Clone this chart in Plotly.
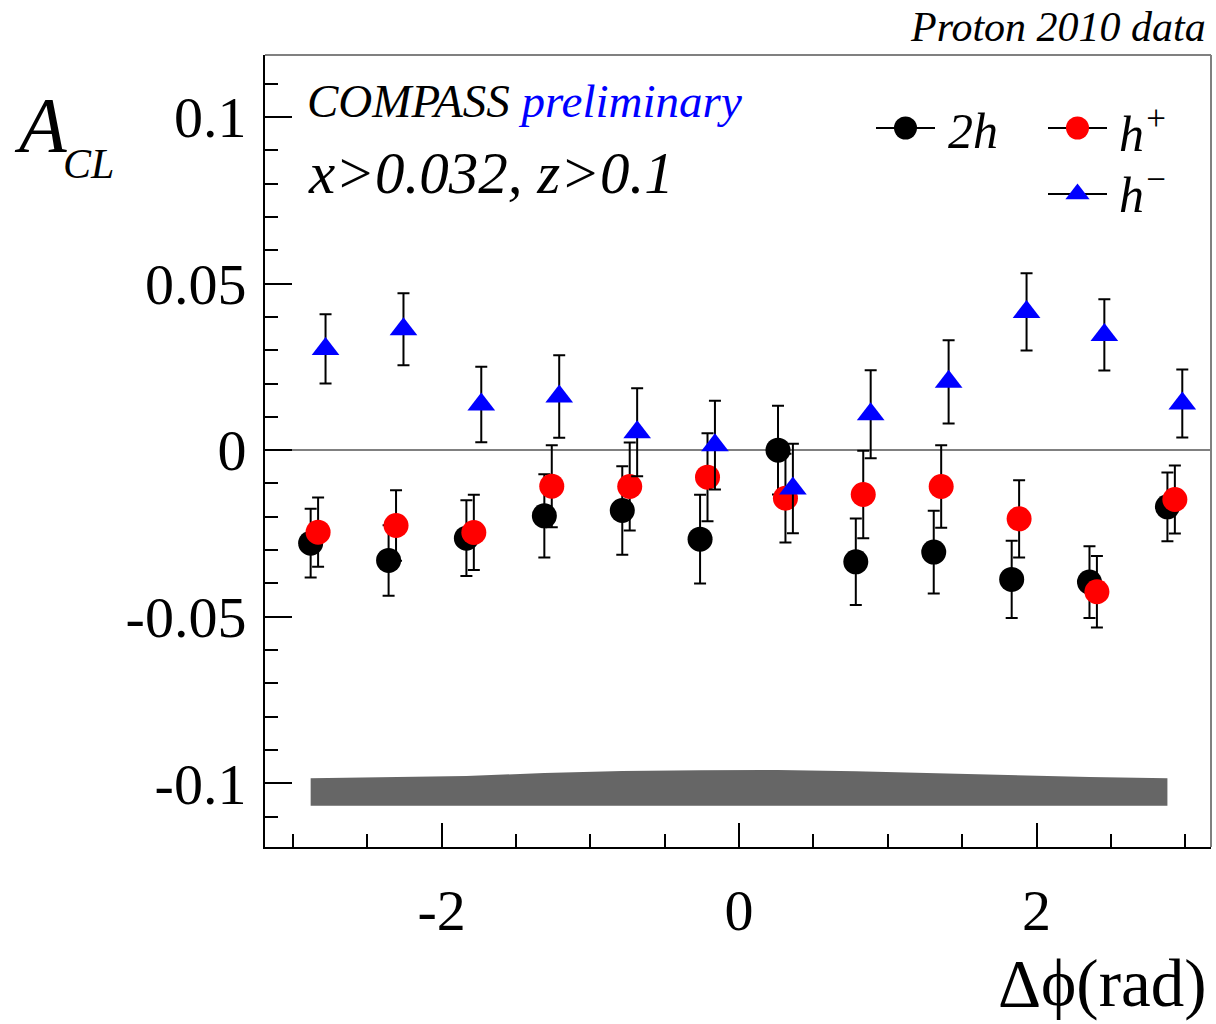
import plotly.graph_objects as go

# ---------------- data ----------------
PHI = [-2.880, -2.356, -1.833, -1.309, -0.785, -0.262, 0.262, 0.785, 1.309, 1.833, 2.356, 2.880]

A_2H = [-0.0279, -0.0331, -0.0264, -0.0197, -0.0181, -0.0267, 0.0000, -0.0335, -0.0306, -0.0388, -0.0396, -0.0170]
E_2H = [0.0103, 0.0106, 0.0114, 0.0125, 0.0133, 0.0133, 0.0133, 0.0130, 0.0124, 0.0116, 0.0108, 0.0103]

A_HP = [-0.0246, -0.0226, -0.0247, -0.0108, -0.0109, -0.0081, -0.0144, -0.0133, -0.0109, -0.0206, -0.0425, -0.0148]
E_HP = [0.0104, 0.0106, 0.0113, 0.0123, 0.0132, 0.0132, 0.0133, 0.0131, 0.0124, 0.0116, 0.0107, 0.0102]

A_HM = [0.0304, 0.0363, 0.0137, 0.0161, 0.0054, 0.0015, -0.0115, 0.0108, 0.0205, 0.0415, 0.0346, 0.0140]
E_HM = [0.0104, 0.0108, 0.0113, 0.0124, 0.0132, 0.0133, 0.0134, 0.0132, 0.0125, 0.0116, 0.0107, 0.0102]

SYST = [0.0082, 0.0085, 0.0089, 0.0098, 0.0104, 0.0106, 0.0107, 0.0103, 0.0097, 0.0092, 0.0086, 0.0082]
BAND_BASE = -0.1067

X_TICKS = [-2, 0, 2]
X_TICK_LABELS = ["-2", "0", "2"]
Y_TICKS = [-0.1, -0.05, 0, 0.05, 0.1]
Y_TICK_LABELS = ["-0.1", "-0.05", "0", "0.05", "0.1"]

# ---------------- style / layout ----------------
W, H = 1216, 1024
L, R, T, B = 265, 1211, 55, 847
SERIF = "Liberation Serif"
OFF_HP, OFF_HM = 0.05, 0.10


def px(x):
    return (x - L) / (R - L)


def py(y):
    return (B - y) / (B - T)


fig = go.Figure()

# systematic band
fig.add_trace(go.Scatter(x=PHI, y=[BAND_BASE] * len(PHI), mode="lines",
                         line=dict(width=0, color="#666666"), showlegend=False, hoverinfo="skip"))
fig.add_trace(go.Scatter(x=PHI, y=[BAND_BASE + s for s in SYST], mode="lines",
                         line=dict(width=0, color="#666666"), fill="tonexty",
                         fillcolor="#666666", showlegend=False, hoverinfo="skip"))

err_style = dict(type="data", color="black", thickness=2, width=6)

fig.add_trace(go.Scatter(x=PHI, y=A_2H, mode="markers",
                         marker=dict(symbol="circle", size=25, color="black", line=dict(width=0)),
                         error_y=dict(array=E_2H, **err_style), showlegend=False))
fig.add_trace(go.Scatter(x=[p + OFF_HP for p in PHI], y=A_HP, mode="markers",
                         marker=dict(symbol="circle", size=25, color="#ff0000", line=dict(width=0)),
                         error_y=dict(array=E_HP, **err_style), showlegend=False))
fig.add_trace(go.Scatter(x=[p + OFF_HM for p in PHI], y=A_HM, mode="markers",
                         marker=dict(symbol="triangle-up", size=24, color="#0000ff", line=dict(width=0)),
                         error_y=dict(array=E_HM, **err_style), showlegend=False))

# manual legend samples on a pixel-coordinate overlay axis
LEG = [  # (x0, x1, y, symbol, color, size)
    (876, 935, 128, "circle", "black", 23),
    (1048, 1107, 128, "circle", "#ff0000", 23),
    (1048, 1107, 194, "triangle-up", "#0000ff", 21),
]
for x0, x1, yy, sym, col, sz in LEG:
    fig.add_trace(go.Scatter(x=[x0, x1], y=[yy, yy], mode="lines", line=dict(color="black", width=2),
                             xaxis="x2", yaxis="y2", showlegend=False, hoverinfo="skip"))
    fig.add_trace(go.Scatter(x=[(x0 + x1) / 2], y=[yy], mode="markers",
                             marker=dict(symbol=sym, size=sz, color=col, line=dict(width=0)),
                             xaxis="x2", yaxis="y2", showlegend=False, hoverinfo="skip"))

tickfont = dict(family=SERIF, size=58, color="black")

fig.update_layout(
    width=W, height=H,
    margin=dict(l=L, r=W - R, t=T, b=H - B, pad=0),
    paper_bgcolor="white", plot_bgcolor="white",
    showlegend=False,
    xaxis=dict(range=[-3.187, 3.173], showgrid=False, zeroline=False,
               showline=True, linecolor="black", linewidth=2,
               tickmode="array", tickvals=X_TICKS, ticktext=X_TICK_LABELS,
               ticks="inside", ticklen=24, tickwidth=2, tickcolor="black",
               ticklabelstandoff=11, tickfont=tickfont,
               minor=dict(tickmode="linear", tick0=0, dtick=0.5, ticks="inside",
                          ticklen=13, tickwidth=2, tickcolor="black")),
    yaxis=dict(range=[-0.1191, 0.1186], showgrid=False,
               zeroline=True, zerolinecolor="#808080", zerolinewidth=2,
               showline=True, linecolor="black", linewidth=2,
               tickmode="array", tickvals=Y_TICKS, ticktext=Y_TICK_LABELS,
               ticks="inside", ticklen=27, tickwidth=2, tickcolor="black",
               ticklabelstandoff=5, tickfont=tickfont,
               minor=dict(tickmode="linear", tick0=0, dtick=0.01, ticks="inside",
                          ticklen=13, tickwidth=2, tickcolor="black")),
    xaxis2=dict(overlaying="x", anchor="y2", range=[L, R], visible=False, fixedrange=True),
    yaxis2=dict(overlaying="y", anchor="x2", range=[B, T], visible=False, fixedrange=True),
)

# gray top/right frame
fig.add_shape(type="line", xref="paper", yref="paper", x0=0, x1=1, y0=1, y1=1,
              line=dict(color="#808080", width=2))
fig.add_shape(type="line", xref="paper", yref="paper", x0=1, x1=1, y0=0, y1=1,
              line=dict(color="#808080", width=2))


def note(text, x, y, size, xanchor="left", color="black"):
    fig.add_annotation(text=text, x=px(x), y=py(y), xref="paper", yref="paper",
                       xanchor=xanchor, yanchor="middle", showarrow=False,
                       font=dict(family=SERIF, size=size, color=color))


note("<i>Proton 2010 data</i>", 1208, 27, 42, xanchor="right")
note("<i>COMPASS</i> <i><span style='color:#0000ff'>preliminary</span></i>", 305, 101, 47)
note("<i>x&gt;0.032, z&gt;0.1</i>", 306, 173, 59)
note("<i>2h</i>", 946, 131, 50)
note("<i>h<sup>+</sup></i>", 1117, 131, 50)
note("<i>h<sup>\u2212</sup></i>", 1117, 191, 50)
note("<i>A</i>", 12, 125, 78)
note("<i>CL</i>", 61, 164, 42)
note("\u0394\u03d5(rad)", 1209, 983, 67, xanchor="right")

fig.write_html("out.html", config={"displayModeBar": False},
               post_script="document.body.style.margin='0px';")
